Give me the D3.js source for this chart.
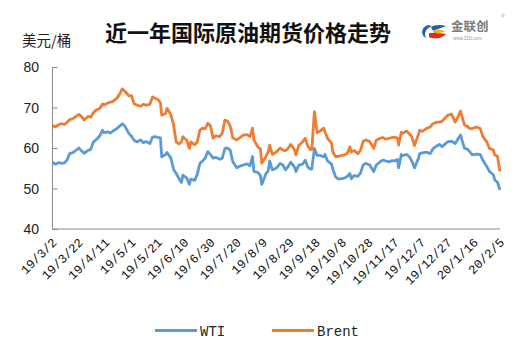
<!DOCTYPE html>
<html><head><meta charset="utf-8">
<script src="https://cdn.jsdelivr.net/npm/d3@7"></script>
<style>body{margin:0;background:#fff}svg{display:block}</style>
</head><body>
<script>
const dates = ["2019-03-02","2019-03-04","2019-03-07","2019-03-09","2019-03-11","2019-03-13","2019-03-15","2019-03-17","2019-03-19","2019-03-22","2019-03-24","2019-03-26","2019-03-29","2019-03-31","2019-04-02","2019-04-04","2019-04-07","2019-04-09","2019-04-10","2019-04-13","2019-04-15","2019-04-17","2019-04-20","2019-04-22","2019-04-24","2019-04-26","2019-04-29","2019-05-01","2019-05-03","2019-05-05","2019-05-08","2019-05-10","2019-05-12","2019-05-15","2019-05-17","2019-05-19","2019-05-21","2019-05-23","2019-05-24","2019-05-27","2019-05-28","2019-05-31","2019-06-02","2019-06-04","2019-06-06","2019-06-08","2019-06-09","2019-06-12","2019-06-14","2019-06-15","2019-06-18","2019-06-20","2019-06-22","2019-06-24","2019-06-26","2019-06-28","2019-06-30","2019-07-02","2019-07-04","2019-07-07","2019-07-09","2019-07-11","2019-07-13","2019-07-15","2019-07-17","2019-07-20","2019-07-23","2019-07-25","2019-07-28","2019-07-30","2019-08-01","2019-08-02","2019-08-05","2019-08-07","2019-08-08","2019-08-11","2019-08-13","2019-08-14","2019-08-16","2019-08-19","2019-08-22","2019-08-24","2019-08-26","2019-08-28","2019-08-30","2019-09-02","2019-09-03","2019-09-05","2019-09-08","2019-09-10","2019-09-12","2019-09-14","2019-09-15","2019-09-17","2019-09-19","2019-09-21","2019-09-24","2019-09-25","2019-09-27","2019-09-30","2019-10-01","2019-10-03","2019-10-05","2019-10-07","2019-10-10","2019-10-12","2019-10-14","2019-10-15","2019-10-17","2019-10-20","2019-10-22","2019-10-24","2019-10-26","2019-10-29","2019-11-01","2019-11-03","2019-11-06","2019-11-08","2019-11-10","2019-11-13","2019-11-15","2019-11-17","2019-11-19","2019-11-20","2019-11-22","2019-11-23","2019-11-26","2019-11-28","2019-11-30","2019-12-02","2019-12-05","2019-12-06","2019-12-08","2019-12-11","2019-12-14","2019-12-16","2019-12-19","2019-12-21","2019-12-23","2019-12-25","2019-12-27","2019-12-30","2020-01-02","2020-01-04","2020-01-06","2020-01-09","2020-01-11","2020-01-13","2020-01-15","2020-01-18","2020-01-21","2020-01-23","2020-01-26","2020-01-28","2020-01-31","2020-02-01","2020-02-03","2020-02-05"];
const wti = [56.5,56.0,56.4,56.2,56.3,57.0,58.6,58.8,59.2,60.0,59.3,58.7,59.4,59.6,61.5,62.0,63.0,64.4,63.8,64.0,63.7,64.2,64.8,65.4,66.0,65.4,63.6,62.9,61.9,61.5,62.0,61.3,61.6,61.1,62.7,62.8,62.6,62.5,57.8,58.4,58.9,57.5,54.7,53.7,52.5,51.5,53.3,52.6,51.0,52.3,52.0,53.5,56.2,56.8,57.5,59.1,58.4,57.5,57.7,57.2,57.5,59.9,60.0,59.5,56.6,55.1,55.6,55.8,56.1,55.6,57.9,54.2,54.0,53.2,51.0,53.5,54.5,56.8,54.6,55.0,56.2,55.8,54.6,55.4,56.5,55.2,54.2,55.7,56.0,57.0,55.3,54.8,54.8,59.9,58.2,58.2,57.8,58.4,56.8,56.0,54.8,52.9,52.4,52.4,52.6,53.0,53.7,52.4,53.2,53.0,53.8,55.8,56.2,55.8,54.2,55.8,56.6,57.0,56.8,56.6,56.9,56.8,57.2,55.1,58.4,58.1,58.4,57.9,56.8,55.1,57.4,58.6,58.8,59.0,58.6,59.8,60.5,60.9,60.3,60.9,61.5,61.7,61.1,62.2,63.2,59.9,59.8,59.1,58.3,58.5,58.4,57.0,55.4,54.2,53.4,52.1,51.6,49.6];
const brent = [65.6,65.2,65.8,66.0,65.8,66.3,67.0,67.2,67.6,68.3,67.8,66.9,67.8,67.6,68.7,69.3,69.8,70.9,70.6,71.1,71.3,71.5,72.3,73.3,74.6,74.0,72.9,72.9,70.9,70.6,70.3,70.8,70.6,70.8,72.6,72.3,72.0,71.2,68.1,68.6,69.8,68.2,65.7,61.5,61.0,61.5,62.8,61.9,59.9,61.5,60.8,61.5,64.4,64.9,64.8,66.1,65.5,62.4,63.0,62.8,63.7,66.9,66.6,65.4,62.5,62.0,62.7,63.2,63.3,62.8,64.9,62.0,60.3,59.8,56.2,57.8,59.1,60.7,58.4,59.0,60.0,59.5,59.3,59.9,60.9,59.5,58.3,60.6,61.5,62.4,60.5,59.6,59.6,69.0,63.8,64.1,64.9,64.0,62.4,61.2,59.0,57.9,57.9,58.1,58.3,58.7,60.3,59.0,59.4,58.6,59.4,61.6,62.0,61.6,59.9,61.9,62.4,62.6,62.2,62.4,62.6,62.6,62.5,60.7,63.9,63.6,64.2,63.5,62.8,60.6,63.3,64.4,64.1,64.8,65.2,66.0,66.4,66.4,66.6,67.3,68.0,68.4,66.4,67.6,69.1,65.7,65.4,64.8,64.8,65.2,64.8,62.8,61.5,59.9,59.5,58.3,58.0,54.2];
const yTicks = [40,50,60,70,80];
const xTickLabels = ["19/3/2","19/3/22","19/4/11","19/5/1","19/5/21","19/6/10","19/6/30","19/7/20","19/8/9","19/8/29","19/9/18","19/10/8","19/10/28","19/11/17","19/12/7","19/12/27","20/1/16","20/2/5"];
const seriesNames = ["WTI","Brent"];
const colors = ["#5B9BD5","#ED7D31"];

const W = 532, H = 355;
const svg = d3.select("body").append("svg").attr("width", W).attr("height", H);
const parse = d3.utcParse("%Y-%m-%d");
const ds = dates.map(parse);
const x0 = parse("2019-03-02"), x1 = parse("2020-02-05");
const x = d3.scaleUtc().domain([x0, x1]).range([52.5, 500]);
const y = d3.scaleLinear().domain([40, 80]).range([229, 67]);
const axisColor = "#898989";

// y axis
const ya = svg.append("g").attr("transform", "translate(52.5,0)")
  .call(d3.axisRight(y).tickValues(yTicks).tickSize(5).tickFormat(""));
ya.selectAll("path,line").attr("stroke", axisColor);
ya.select(".domain").attr("d", `M0,${y(80)}V${y(40)}`);
svg.append("g").selectAll("text").data(yTicks).join("text")
  .attr("x", 39).attr("y", d => y(d)).attr("dy", "0.36em")
  .attr("text-anchor", "end").attr("font-family", "Liberation Sans, Arial, sans-serif")
  .attr("font-size", 14).attr("fill", "#222").text(d => d);

// x axis
const tickDates = xTickLabels.map((s, i) => d3.utcDay.offset(x0, i * 20));
const xa = svg.append("g").attr("transform", `translate(0,${y(40)})`)
  .call(d3.axisBottom(x).tickValues(tickDates).tickSize(0).tickFormat(""));
xa.select(".domain").attr("stroke", axisColor).attr("d", `M52.5,0H500`);
svg.append("g").selectAll("text").data(tickDates).join("text")
  .attr("transform", d => `translate(${x(d) + 2},${y(40) + 11}) rotate(-45)`)
  .attr("text-anchor", "end").attr("dy", "0.35em")
  .attr("font-family", "Liberation Mono, DejaVu Sans Mono, monospace")
  .attr("font-size", 12.5).attr("fill", "#111")
  .text((d, i) => xTickLabels[i]);

// lines
const series = [wti, brent];
const line = d3.line().x((d, i) => x(ds[i])).y(d => y(d));
series.forEach((s, k) => {
  svg.append("path").datum(s).attr("fill", "none").attr("stroke", colors[k])
    .attr("stroke-width", 2.8).attr("stroke-linejoin", "round").attr("d", line);
});

// legend
const legX = [155, 272];
seriesNames.forEach((n, k) => {
  svg.append("line").attr("x1", legX[k]).attr("x2", legX[k] + 42)
    .attr("y1", 330.5).attr("y2", 330.5).attr("stroke", colors[k]).attr("stroke-width", 3);
  svg.append("text").attr("x", legX[k] + 45).attr("y", 336)
    .attr("font-family", "Liberation Mono, DejaVu Sans Mono, monospace")
    .attr("font-size", 14).attr("fill", "#222").text(n);
});

// titles
svg.append("text").attr("x", 248).attr("y", 41).attr("text-anchor", "middle")
  .attr("font-family", "Noto Sans CJK SC, sans-serif").attr("font-weight", "bold")
  .attr("font-size", 22).attr("fill", "#111").text("近一年国际原油期货价格走势");
svg.append("text").attr("x", 22).attr("y", 46)
  .attr("font-family", "Noto Sans CJK SC, sans-serif")
  .attr("font-size", 14.5).attr("fill", "#222").text("美元/桶");

// logo
const lg = svg.append("g");
lg.append("path").attr("d", "M428,25 C421,27 420,35 426,38 C424,34 425,29 432,26 Z").attr("fill", "#2266b8");
lg.append("path").attr("d", "M431,27 C434,25 440,24 446,26 C442,28 437,29 433,31 Z").attr("fill", "#1f5fb0");
lg.append("path").attr("d", "M433,30 C438,29 443,29 445,32 C441,33 437,33 433,33 Z").attr("fill", "#f2b416");
lg.append("path").attr("d", "M429,33 C434,33 442,33 446,34 C443,38 435,40 429,37 Z").attr("fill", "#e02b20");
lg.append("text").attr("x", 451).attr("y", 31).attr("font-family", "Noto Sans CJK SC, sans-serif")
  .attr("font-weight", "bold").attr("font-size", 12.5).attr("fill", "#7a7a7a").text("金联创");
lg.append("text").attr("x", 453).attr("y", 39.5).attr("font-family", "Liberation Sans, sans-serif")
  .attr("font-size", 4.5).attr("fill", "#999").text("www.315i.com");
lg.append("text").attr("x", 501).attr("y", 18).attr("font-family", "Liberation Sans, sans-serif")
  .attr("font-size", 5).attr("fill", "#999").text("®");
</script>
</body></html>
